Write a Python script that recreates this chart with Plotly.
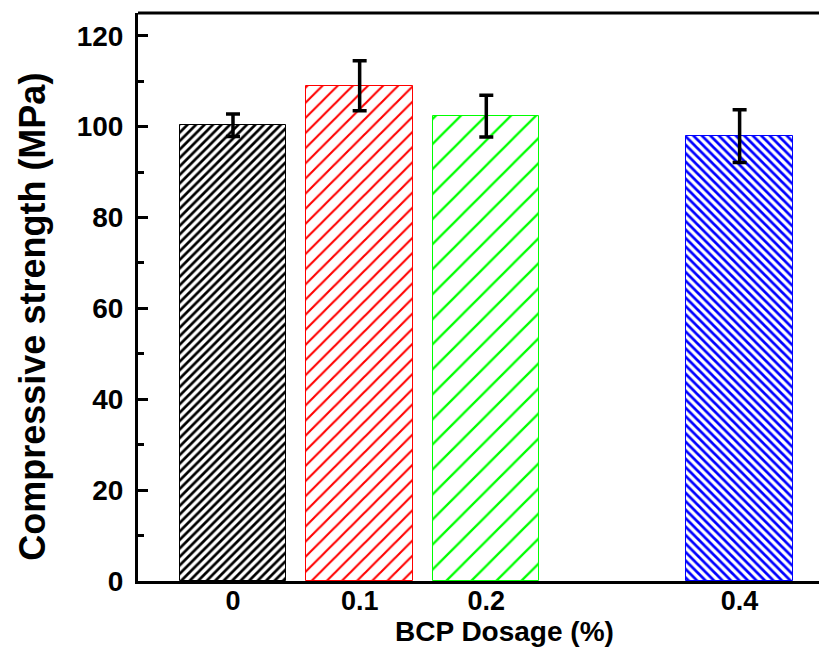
import plotly.graph_objects as go

# Data
dosage = [0, 0.1, 0.2, 0.4]
strength = [100.3, 109.0, 102.3, 97.9]
err = [2.5, 5.5, 4.6, 5.8]
colors = ["#000000", "#FF0000", "#00FF00", "#0000FF"]
shapes = ["/", "/", "/", "\\"]
pat_size = [6, 10.7, 17.7, 6]
pat_solid = [0.45, 0.2, 0.13, 0.45]
tick_labels = ["0", "0.1", "0.2", "0.4"]

FONT = "Liberation Sans"

# The page body has an 8px default margin; compensate so the plot area
# lands where the reference has it.
OFF = 8
W, H = 827 - OFF, 643
L = 138 - OFF
T = 13 - OFF
B = H - (581.5 - OFF)
PW = W - L
PH = H - T - B


def px_x(x):
    return (x - OFF - L) / PW


def px_y(y):
    return (H - B - (y - OFF)) / PH


fig = go.Figure()
for x, y, e, c, s, ps, sol in zip(dosage, strength, err, colors, shapes, pat_size, pat_solid):
    fig.add_trace(go.Bar(
        x=[x], y=[y], width=0.084,
        marker=dict(
            color="white",
            line=dict(color=c, width=1),
            pattern=dict(shape=s, fgcolor=c, bgcolor="white", size=ps,
                         solidity=sol, fillmode="replace"),
        ),
        error_y=dict(type="data", array=[e], visible=True, color="black",
                     thickness=3.5, width=7),
        showlegend=False,
    ))

fig.update_layout(
    width=W, height=H,
    margin=dict(l=L, r=0, t=T, b=B),
    plot_bgcolor="white", paper_bgcolor="white",
    bargap=0,
    font=dict(family=FONT, color="black"),
    xaxis=dict(
        range=[-0.075, 0.469], tickvals=dosage, ticktext=tick_labels,
        ticks="", showline=True, linecolor="black", linewidth=3,
        showgrid=False, zeroline=False,
        tickfont=dict(family=FONT, size=27, color="black", weight="bold"),
        ticklabelstandoff=-6,
    ),
    yaxis=dict(
        range=[0, 125], tickvals=[0, 20, 40, 60, 80, 100, 120],
        ticks="inside", ticklen=10, tickwidth=2.5, tickcolor="black",
        minor=dict(tickvals=[10, 30, 50, 70, 90, 110], ticks="inside",
                   ticklen=6, tickwidth=2.5, tickcolor="black"),
        showline=True, linecolor="black", linewidth=3,
        showgrid=False, zeroline=False,
        tickfont=dict(family=FONT, size=28, color="black", weight="bold"),
        ticklabelstandoff=6,
    ),
    shapes=[dict(type="line", xref="paper", yref="paper", x0=0, x1=1, y0=1, y1=1,
                 line=dict(color="black", width=3))],
    annotations=[
        dict(text="<b>BCP Dosage (%)</b>", xref="paper", yref="paper",
             x=px_x(504), y=px_y(632), xanchor="center", yanchor="middle",
             showarrow=False, font=dict(family=FONT, size=28, color="black")),
        dict(text="<b>Compressive strength (MPa)</b>", xref="paper", yref="paper",
             x=px_x(33), y=px_y(317), xanchor="center", yanchor="middle",
             textangle=-90, showarrow=False,
             font=dict(family=FONT, size=36, color="black")),
    ],
)

fig.write_html("out.html")
